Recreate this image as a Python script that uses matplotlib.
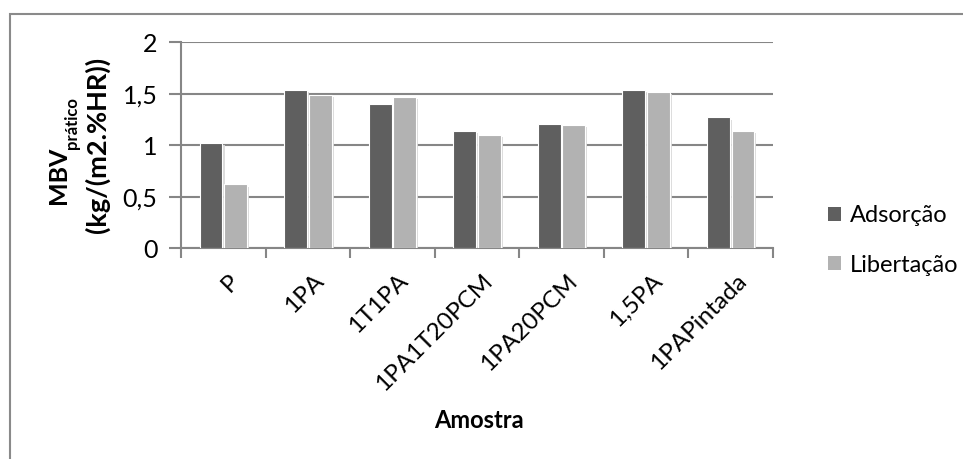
import matplotlib
matplotlib.use("Agg")
import matplotlib.pyplot as plt
import matplotlib.patheffects as pe
from matplotlib.patches import Rectangle
import numpy as np

plt.rcParams['font.family'] = ['Lato', 'DejaVu Sans']

# Sample names and moisture buffer values
amostras = ["P", "1PA", "1T1PA", "1PA1T20PCM", "1PA20PCM", "1,5PA", "1PAPintada"]
adsorcao = [1.02, 1.54, 1.40, 1.14, 1.21, 1.54, 1.27]
libertacao = [0.62, 1.49, 1.47, 1.10, 1.20, 1.52, 1.14]
serie_nomes = ["Adsorção", "Libertação"]
y_ticks = [0, 0.5, 1, 1.5, 2]
y_tick_labels = ["0", "0,5", "1", "1,5", "2"]

W, H = 963, 459
fig = plt.figure(figsize=(W / 100, H / 100), dpi=100)

# outer chart frame
fig.patches.append(Rectangle((9.5 / W, -0.01), 1.0, (H - 13.5) / H + 0.01,
                             transform=fig.transFigure, fill=False,
                             edgecolor="#8a8a8a", linewidth=1.5))

ax = fig.add_axes([181 / W, (H - 248.3) / H, (773 - 181) / W, (248.3 - 42.3) / H])

x = np.arange(len(amostras))
bw = 0.27
shadow = [pe.SimplePatchShadow(offset=(1.5, -1.5), shadow_rgbFace="#d9d9d9", alpha=0.9),
          pe.Normal()]
b1 = ax.bar(x - 0.145, adsorcao, bw, color="#5f5f5f", edgecolor="white",
            linewidth=0.8, label=serie_nomes[0], zorder=3)
b2 = ax.bar(x + 0.145, libertacao, bw, color="#b2b2b2", edgecolor="white",
            linewidth=0.8, label=serie_nomes[1], zorder=3)
for bars in (b1, b2):
    for p in bars:
        p.set_path_effects(shadow)

ax.set_xlim(-0.5, len(amostras) - 0.5)
ax.set_ylim(0, 2)
ax.set_yticks(y_ticks)
ax.set_yticklabels(y_tick_labels, fontsize=18)
ax.yaxis.grid(True, color="#868686", linewidth=1.5, zorder=0)
ax.set_axisbelow(True)

ax.set_xticks(np.arange(-0.5, len(amostras), 1.0))
ax.set_xticklabels([])
ax.tick_params(axis="x", length=7, width=1.5, color="#868686", direction="out")
ax.tick_params(axis="y", length=9, width=1.5, color="#868686", direction="out", pad=8)

for s in ("top", "right"):
    ax.spines[s].set_visible(False)
for s in ("left", "bottom"):
    ax.spines[s].set_color("#868686")
    ax.spines[s].set_linewidth(1.5)

# rotated category labels
for xi, name in zip(x, amostras):
    ax.annotate(name, xy=(xi, 0), xycoords="data", xytext=(5, -22),
                textcoords="offset pixels", rotation=45, rotation_mode="anchor",
                ha="right", va="top", fontsize=17.5)

fig.text(479 / W, 1 - 420 / H, "Amostra", ha="center", va="center",
         fontsize=17, fontweight="bold")

# y-axis title: "MBV" with subscript "prático", then the unit line
fig.text(59 / W, 1 - 204 / H, "MBV", rotation=90, ha="center", va="bottom",
         fontsize=18, fontweight="bold")
fig.text(72 / W, 1 - 149 / H, "prático", rotation=90, ha="center", va="bottom",
         fontsize=12, fontweight="bold")
fig.text(97 / W, 1 - 145 / H, "(kg/(m2.%HR))", rotation=90,
         ha="center", va="center", fontsize=19.5, fontweight="bold")

leg = fig.legend(handles=[b1, b2], labels=serie_nomes, loc="center left",
                 bbox_to_anchor=(807 / W, 1 - 240.5 / H), frameon=False,
                 fontsize=17, handlelength=0.55, handleheight=0.55,
                 handletextpad=0.38, labelspacing=1.2)
for h in leg.legend_handles:
    h.set_path_effects([])
    h.set_edgecolor("none")

fig.savefig("out.png", dpi=100)
